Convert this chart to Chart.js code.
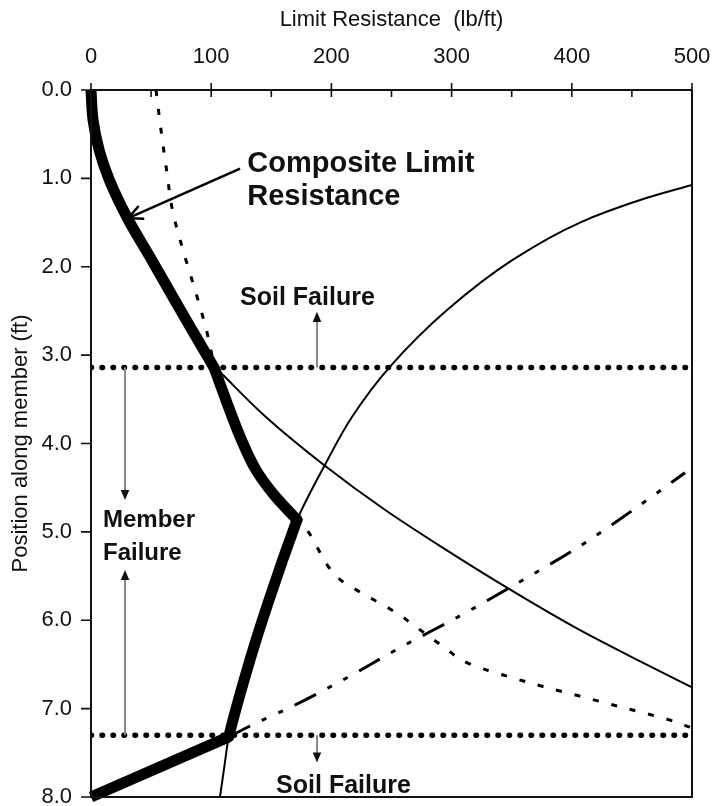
<!DOCTYPE html>
<html>
<head>
<meta charset="utf-8">
<script src="https://cdn.jsdelivr.net/npm/chart.js@4.4.1/dist/chart.umd.min.js"></script>
<style>
  html, body { margin: 0; padding: 0; background: #fff; }
  #wrap { width: 714px; height: 806px; }
</style>
</head>
<body>
<div id="wrap"><canvas id="chart" width="714" height="806"></canvas></div>
<script>
// points: [limit resistance (lb/ft), position along member (ft)]
const compositeUpper = [[0,0],[1.7,0.34],[6.8,0.68],[15.3,1.02],[31.1,1.47],[50.4,1.92],[69.7,2.38],[89,2.83],[102.5,3.145]];
const compositeMiddle = [[102.5,3.145],[112.3,3.51],[125.2,3.96],[137.3,4.3],[152.2,4.58],[171.4,4.864]];
const compositeLower = [[171.4,4.864],[159.4,5.32],[148.1,5.77],[137.4,6.22],[127.5,6.67],[118.1,7.13],[114.6,7.32]];
const compositeBase = [[114.6,7.32],[0,8.0]];

const risingCurve = [[107.3,8.0],[110.9,7.66],[114.6,7.32],[118.1,7.13],[127.5,6.67],[137.4,6.22],[148.1,5.77],[159.4,5.32],[171.4,4.864],[194.7,4.24],[217.1,3.7],[248.8,3.13],[296.2,2.49],[351.1,1.92],[406.8,1.5],[462.6,1.22],[500,1.075]];
const fallingCurve = [[106.5,3.18],[145.5,3.7],[193.5,4.24],[244.5,4.75],[291.5,5.17],[349.5,5.66],[406.5,6.11],[459,6.48],[500,6.76]];
const dottedCurve = [[54.1,0],[58.2,0.45],[62.8,0.9],[67.8,1.36],[76.5,1.81],[86.5,2.26],[96.1,2.72],[101.5,3.05],[112.3,3.51],[125.2,3.96],[137.3,4.3],[152.2,4.58],[171.4,4.864],[179.7,4.98],[188,5.17],[196.3,5.37],[207.2,5.54],[223.8,5.68],[237.9,5.79],[254.6,5.92],[267.9,6.05],[282,6.19],[296.2,6.33],[309.5,6.46],[326,6.55],[343,6.62],[376,6.75],[412.6,6.88],[445.9,7.0],[481.7,7.13],[498.3,7.21]];
const dashDotCurve = [[114.6,7.32],[134.8,7.18],[168.1,6.97],[213,6.65],[257.1,6.31],[307,5.95],[351.1,5.61],[406.8,5.16],[462.6,4.64],[494.2,4.33]];

const failureDepths = [3.14, 7.3];
const xTicks = [0, 100, 200, 300, 400, 500];
const xMinorTicks = [50, 150, 250, 350, 450];
const yTicks = [0, 1, 2, 3, 4, 5, 6, 7, 8];

const FONT = '"Liberation Sans", Arial, sans-serif';
const toPts = arr => arr.map(([x, y]) => ({ x, y }));

function curve(points, extra) {
    return Object.assign({
        data: toPts(points),
        showLine: true,
        pointRadius: 0,
        borderColor: '#000',
        backgroundColor: '#000',
        borderWidth: 2,
        indexAxis: 'y',
        cubicInterpolationMode: 'monotone',
        fill: false,
        order: 2
    }, extra);
}

function arrow(ctx, x1, y1, x2, y2, shaft, head, width, open) {
    const ang = Math.atan2(y2 - y1, x2 - x1);
    const len = open ? 16 : 11, half = open ? 0.45 : 0.4;
    ctx.save();
    ctx.strokeStyle = shaft;
    ctx.lineWidth = width;
    ctx.beginPath();
    ctx.moveTo(x1, y1);
    ctx.lineTo(open ? x2 : x2 - Math.cos(ang) * len * 0.8, open ? y2 : y2 - Math.sin(ang) * len * 0.8);
    ctx.stroke();
    ctx.beginPath();
    ctx.moveTo(x2 - len * Math.cos(ang - half), y2 - len * Math.sin(ang - half));
    ctx.lineTo(x2, y2);
    ctx.lineTo(x2 - len * Math.cos(ang + half), y2 - len * Math.sin(ang + half));
    if (open) {
        ctx.strokeStyle = head;
        ctx.lineWidth = width;
        ctx.stroke();
    } else {
        ctx.closePath();
        ctx.fillStyle = head;
        ctx.fill();
    }
    ctx.restore();
}

// frame and tick marks
const frame = {
    id: 'frame',
    afterDatasetsDraw(chart) {
        const { ctx, chartArea: a, scales: { x, y } } = chart;
        ctx.save();
        ctx.strokeStyle = '#111';
        ctx.lineWidth = 2;
        ctx.strokeRect(a.left, a.top, a.right - a.left, a.bottom - a.top);
        ctx.lineWidth = 1.6;
        ctx.beginPath();
        xTicks.forEach(v => {
            const px = x.getPixelForValue(v);
            ctx.moveTo(px, a.top - 7); ctx.lineTo(px, a.top + 7);
        });
        xMinorTicks.forEach(v => {
            const px = x.getPixelForValue(v);
            ctx.moveTo(px, a.top); ctx.lineTo(px, a.top + 7);
        });
        yTicks.forEach(v => {
            const py = y.getPixelForValue(v);
            ctx.moveTo(a.left - 10, py); ctx.lineTo(a.left, py);
        });
        ctx.stroke();
        ctx.restore();
    }
};

// labels and arrows
const notes = {
    id: 'notes',
    afterDraw(chart) {
        const { ctx, scales: { x, y } } = chart;
        const X = v => x.getPixelForValue(v), Y = v => y.getPixelForValue(v);
        ctx.save();
        ctx.fillStyle = '#111';
        ctx.textBaseline = 'alphabetic';
        ctx.textAlign = 'left';
        ctx.font = 'bold 29px ' + FONT;
        ctx.fillText('Composite Limit', X(130), Y(0.93));
        ctx.fillText('Resistance', X(130), Y(1.30));
        ctx.font = 'bold 25px ' + FONT;
        ctx.fillText('Soil Failure', X(124), Y(2.43));
        ctx.fillText('Soil Failure', X(154), Y(7.95));
        ctx.font = 'bold 24px ' + FONT;
        ctx.fillText('Member', X(10), Y(4.95));
        ctx.fillText('Failure', X(10), Y(5.32));
        ctx.restore();

        arrow(ctx, X(124), Y(0.89), X(31), Y(1.45), '#000', '#000', 2.5, true);
        arrow(ctx, X(188), Y(3.14), X(188), Y(2.51), '#888', '#111', 2, false);
        arrow(ctx, X(188), Y(7.3), X(188), Y(7.61), '#888', '#111', 2, false);
        arrow(ctx, X(28.3), Y(3.14), X(28.3), Y(4.64), '#888', '#111', 2, false);
        arrow(ctx, X(28.3), Y(7.3), X(28.3), Y(5.43), '#888', '#111', 2, false);
    }
};

const datasets = [
    curve(compositeUpper, { borderWidth: 11, borderCapStyle: 'butt', order: 0, clip: false }),
    curve(compositeMiddle, { borderWidth: 11, borderCapStyle: 'round', order: 0, clip: false }),
    curve(compositeLower, { borderWidth: 11, borderCapStyle: 'round', order: 0, clip: false }),
    curve(compositeBase, { borderWidth: 11, borderCapStyle: 'butt', cubicInterpolationMode: 'default', tension: 0, order: 0, clip: false }),
    curve(risingCurve, {}),
    curve(fallingCurve, {}),
    curve(dottedCurve, { borderWidth: 3, borderDash: [6, 13] }),
    curve(dashDotCurve, { borderWidth: 3, borderDash: [24, 13, 5, 13, 5, 13] })
];
failureDepths.forEach(d => {
    datasets.push(curve([[0, d], [500, d]], {
        borderWidth: 5.5, borderDash: [0.5, 10.5], borderCapStyle: 'round',
        indexAxis: 'x', cubicInterpolationMode: 'default', tension: 0, order: 1
    }));
});

new Chart(document.getElementById('chart'), {
    type: 'scatter',
    data: { datasets },
    options: {
        responsive: false,
        animation: false,
        layout: { padding: { left: 0, top: 0, right: 22, bottom: 9 } },
        plugins: { legend: { display: false }, tooltip: { enabled: false } },
        scales: {
            x: {
                type: 'linear',
                position: 'top',
                min: 0,
                max: 500,
                grid: { display: false, drawTicks: false },
                border: { display: false },
                ticks: { stepSize: 100, padding: 20, color: '#111', font: { family: FONT, size: 22 } },
                title: {
                    display: true,
                    text: 'Limit Resistance  (lb/ft)',
                    color: '#111',
                    font: { family: FONT, size: 22 },
                    padding: { top: 7, bottom: 0 }
                },
                afterFit: s => { s.height = 90; s.paddingLeft = 0; s.paddingRight = 0; }
            },
            y: {
                type: 'linear',
                reverse: true,
                min: 0,
                max: 8,
                grid: { display: false, drawTicks: false },
                border: { display: false },
                ticks: {
                    stepSize: 1,
                    padding: 19,
                    color: '#111',
                    font: { family: FONT, size: 22 },
                    callback: v => v.toFixed(1)
                },
                title: {
                    display: true,
                    text: 'Position along member (ft)',
                    color: '#111',
                    font: { family: FONT, size: 22 },
                    padding: { top: 8, bottom: 0 }
                },
                afterFit: s => { s.width = 91; s.paddingTop = 0; s.paddingBottom = 0; }
            }
        }
    },
    plugins: [frame, notes]
});
</script>
</body>
</html>
